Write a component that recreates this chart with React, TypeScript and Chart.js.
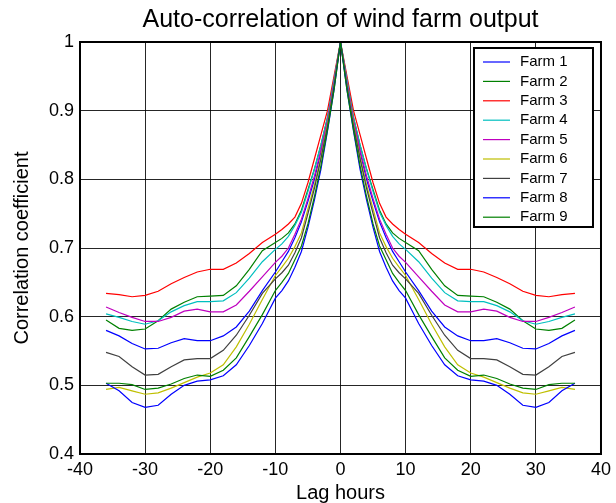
import { useEffect, useRef } from "react";
import { Chart, registerables } from "chart.js";

Chart.register(...registerables);

// Positive lags (hours); the auto-correlation is symmetric, so negative lags mirror these.
const LAG_HOURS = [0, 1, 2, 3, 4, 5, 6, 7, 8, 9, 10, 12, 14, 16, 18, 20, 22, 24, 26, 28, 30, 32, 34, 36];

const FARM_1 = [1, 0.94, 0.885, 0.84, 0.8, 0.768, 0.738, 0.715, 0.695, 0.68, 0.665, 0.638, 0.608, 0.585, 0.572, 0.565, 0.565, 0.568, 0.562, 0.554, 0.553, 0.561, 0.572, 0.58];
const FARM_2 = [1, 0.945, 0.89, 0.85, 0.815, 0.785, 0.755, 0.735, 0.722, 0.714, 0.708, 0.696, 0.669, 0.645, 0.631, 0.63, 0.629, 0.621, 0.611, 0.594, 0.582, 0.58, 0.583, 0.595];
const FARM_3 = [1, 0.95, 0.9, 0.865, 0.83, 0.795, 0.765, 0.745, 0.735, 0.727, 0.72, 0.708, 0.692, 0.678, 0.669, 0.669, 0.665, 0.657, 0.648, 0.637, 0.631, 0.629, 0.632, 0.634];
const FARM_4 = [1, 0.945, 0.89, 0.85, 0.815, 0.782, 0.752, 0.733, 0.717, 0.706, 0.698, 0.68, 0.656, 0.635, 0.623, 0.622, 0.622, 0.616, 0.607, 0.594, 0.589, 0.593, 0.599, 0.604];
const FARM_5 = [1, 0.94, 0.885, 0.843, 0.805, 0.772, 0.742, 0.72, 0.7, 0.688, 0.679, 0.658, 0.637, 0.617, 0.607, 0.607, 0.611, 0.608, 0.599, 0.593, 0.593, 0.599, 0.606, 0.614];
const FARM_6 = [1, 0.935, 0.88, 0.833, 0.792, 0.757, 0.722, 0.702, 0.685, 0.672, 0.66, 0.625, 0.589, 0.556, 0.53, 0.518, 0.512, 0.504, 0.496, 0.489, 0.487, 0.492, 0.497, 0.494];
const FARM_7 = [1, 0.935, 0.877, 0.83, 0.787, 0.75, 0.715, 0.693, 0.675, 0.664, 0.655, 0.634, 0.602, 0.573, 0.551, 0.539, 0.539, 0.537, 0.527, 0.516, 0.515, 0.527, 0.542, 0.548];
const FARM_8 = [1, 0.93, 0.87, 0.815, 0.77, 0.73, 0.695, 0.672, 0.652, 0.638, 0.627, 0.59, 0.558, 0.53, 0.514, 0.508, 0.506, 0.5, 0.487, 0.471, 0.468, 0.475, 0.492, 0.503];
const FARM_9 = [1, 0.93, 0.872, 0.82, 0.775, 0.735, 0.703, 0.683, 0.663, 0.65, 0.638, 0.603, 0.571, 0.54, 0.522, 0.513, 0.515, 0.51, 0.502, 0.496, 0.494, 0.501, 0.503, 0.503];

const FARM_SERIES = [FARM_1, FARM_2, FARM_3, FARM_4, FARM_5, FARM_6, FARM_7, FARM_8, FARM_9];
const FARM_NAMES = ["Farm 1", "Farm 2", "Farm 3", "Farm 4", "Farm 5", "Farm 6", "Farm 7", "Farm 8", "Farm 9"];
const FARM_COLORS = ["#0000ff", "#008000", "#ff0000", "#00bfbf", "#bf00bf", "#bfbf00", "#404040", "#0000ff", "#008000"];

const X_MIN = -40;
const X_MAX = 40;
const X_STEP = 10;
const Y_MIN = 0.4;
const Y_MAX = 1;
const Y_STEP = 0.1;

const TITLE = "Auto-correlation of wind farm output";
const X_LABEL = "Lag hours";
const Y_LABEL = "Correlation coefficient";

const FONT = "'Liberation Sans', Arial, sans-serif";

function symmetricPoints(lags: number[], values: number[]) {
  const pts: { x: number; y: number }[] = [];
  for (let i = lags.length - 1; i > 0; i--) pts.push({ x: -lags[i], y: values[i] });
  for (let i = 0; i < lags.length; i++) pts.push({ x: lags[i], y: values[i] });
  return pts;
}

// Frame around the plot area plus a boxed legend in the upper right corner.
const framePlugin = {
  id: "frameAndLegend",
  afterDraw(chart: any) {
    const { ctx, chartArea } = chart;
    const { left, top, right, bottom } = chartArea;
    ctx.save();
    ctx.strokeStyle = "#000";
    ctx.lineWidth = 2;
    ctx.strokeRect(left, top, right - left, bottom - top);

    const bx = right - 127;
    const by = top + 6;
    const bw = 119;
    const bh = 179;
    ctx.fillStyle = "#fff";
    ctx.fillRect(bx, by, bw, bh);
    ctx.lineWidth = 2;
    ctx.strokeRect(bx, by, bw, bh);

    ctx.font = `15px ${FONT}`;
    ctx.textBaseline = "middle";
    ctx.textAlign = "left";
    FARM_NAMES.forEach((name, i) => {
      const y = by + 14 + i * 19.4;
      ctx.strokeStyle = FARM_COLORS[i];
      ctx.lineWidth = 1.2;
      ctx.beginPath();
      ctx.moveTo(bx + 9, y);
      ctx.lineTo(bx + 36, y);
      ctx.stroke();
      ctx.fillStyle = "#000";
      ctx.fillText(name, bx + 46, y);
    });
    ctx.restore();
  },
};

export default function App() {
  const canvasRef = useRef<HTMLCanvasElement | null>(null);

  useEffect(() => {
    const canvas = canvasRef.current;
    if (!canvas) return;

    const datasets = FARM_SERIES.map((values, i) => ({
      label: FARM_NAMES[i],
      data: symmetricPoints(LAG_HOURS, values),
      borderColor: FARM_COLORS[i],
      backgroundColor: FARM_COLORS[i],
      borderWidth: 1.2,
      pointRadius: 0,
      showLine: true,
      fill: false,
      tension: 0,
      order: FARM_SERIES.length - i,
    }));

    const chart = new Chart(canvas, {
      type: "scatter",
      data: { datasets },
      options: {
        animation: false,
        responsive: false,
        devicePixelRatio: 1,
        layout: { padding: { left: 0, right: 13, top: 0, bottom: 0 } },
        plugins: {
          legend: { display: false },
          tooltip: { enabled: false },
          title: {
            display: true,
            text: TITLE,
            fullSize: false,
            color: "#000",
            font: { family: FONT, size: 25, weight: "normal", lineHeight: 1.2 },
            padding: { top: 5, bottom: 7 },
          },
        },
        scales: {
          x: {
            type: "linear",
            min: X_MIN,
            max: X_MAX,
            afterFit(scale: any) {
              scale.height = 49;
            },
            ticks: {
              stepSize: X_STEP,
              color: "#000",
              padding: 5,
              maxRotation: 0,
              font: { family: FONT, size: 18 },
              callback: (v: any) => String(v),
            },
            grid: { color: "rgba(0,0,0,0.85)", lineWidth: 1, drawTicks: false },
            border: { color: "#000", width: 2 },
            title: {
              display: true,
              text: X_LABEL,
              color: "#000",
              font: { family: FONT, size: 20, lineHeight: 1 },
              padding: { top: 0, bottom: 0 },
            },
          },
          y: {
            type: "linear",
            min: Y_MIN,
            max: Y_MAX,
            afterFit(scale: any) {
              scale.width = 80;
            },
            ticks: {
              stepSize: Y_STEP,
              color: "#000",
              padding: 6,
              font: { family: FONT, size: 18 },
              callback: (v: any) => {
                const s = Number(v).toFixed(1);
                return s.endsWith(".0") ? s.slice(0, -2) : s;
              },
            },
            grid: { color: "rgba(0,0,0,0.85)", lineWidth: 1, drawTicks: false },
            border: { color: "#000", width: 2 },
            title: {
              display: true,
              text: Y_LABEL,
              color: "#000",
              font: { family: FONT, size: 20, lineHeight: 1 },
              padding: { top: 12, bottom: 0 },
            },
          },
        },
      },
      plugins: [framePlugin],
    });

    return () => chart.destroy();
  }, []);

  return (
    <div style={{ position: "absolute", left: 0, top: 0, width: 616, height: 503, background: "#fff" }}>
      <canvas ref={canvasRef} width={616} height={503} style={{ display: "block" }} />
    </div>
  );
}
